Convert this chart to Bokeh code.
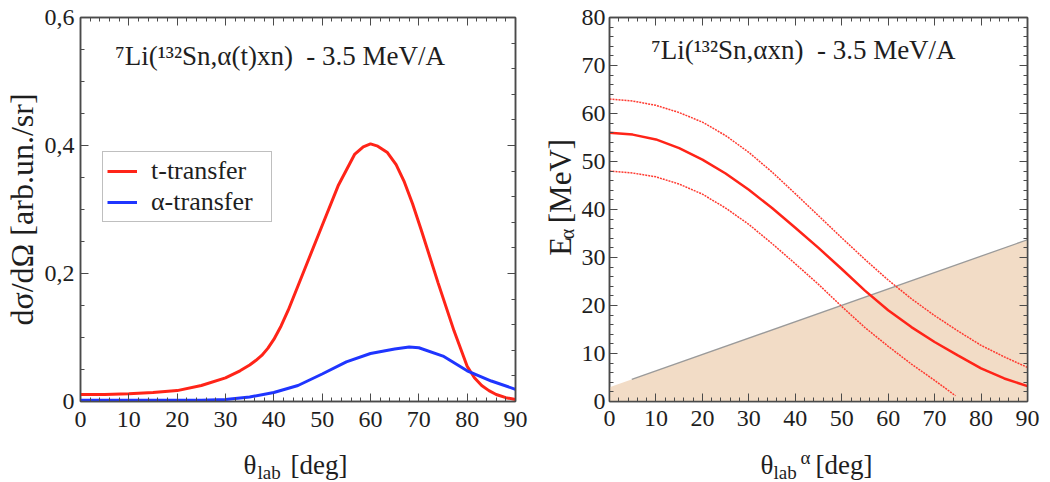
import math
from bokeh.plotting import figure
from bokeh.models import (Range1d, FixedTicker, LinearAxis, Label, Legend,
                          LegendItem)
from bokeh.layouts import row, column
from bokeh.embed import file_html
from bokeh.resources import INLINE

FONT = "Liberation Serif"
AX = "#4a4a4a"
TXT = "#1e1e1e"

# ---------------- data: left panel (angular distributions) ----------------
theta_t = [0, 5, 10, 15, 20, 25, 30, 33, 35, 36.25, 37.5, 38.75, 40, 41.5,
           43, 46.5, 50, 53.3, 56.7, 58.5, 60, 61.5, 63.5, 65.3, 67, 68.7,
           70.5, 74, 77.3, 80, 81.5, 83, 84.5, 86, 88, 90]
t_transfer = [0.011, 0.011, 0.012, 0.014, 0.017, 0.025, 0.037, 0.048, 0.057,
              0.064, 0.072, 0.083, 0.097, 0.118, 0.143, 0.209, 0.275, 0.337,
              0.386, 0.398, 0.4025, 0.399, 0.389, 0.370, 0.343, 0.309, 0.268,
              0.185, 0.110, 0.055, 0.037, 0.025, 0.017, 0.011, 0.006, 0.003]
theta_a = [0, 10, 20, 25, 30, 35, 40, 45, 50, 55, 60, 65, 68, 70, 75, 80,
           85, 90]
a_transfer = [0.002, 0.002, 0.002, 0.002, 0.003, 0.007, 0.014, 0.025, 0.043,
              0.062, 0.075, 0.082, 0.085, 0.084, 0.071, 0.048, 0.032, 0.019]

x_ticks = [0, 10, 20, 30, 40, 50, 60, 70, 80, 90]
left_y_ticks = [0, 0.2, 0.4, 0.6]
left_y_labels = ["0", "0,2", "0,4", "0,6"]

# ---------------- data: right panel (alpha energies) ----------------
theta_r = [0, 5, 10, 15, 20, 25, 30, 35, 40, 45, 50, 55, 60, 65, 70, 75, 80,
           85, 90]
e_mid = [56.0, 55.6, 54.6, 52.8, 50.4, 47.5, 44.1, 40.3, 36.2, 32.0, 27.6,
         23.1, 19.0, 15.5, 12.4, 9.6, 6.9, 4.8, 3.2]
e_up = [63.0, 62.6, 61.7, 60.2, 58.2, 55.4, 51.9, 47.8, 43.3, 38.7, 34.1,
        29.6, 25.3, 21.4, 17.9, 14.7, 11.7, 9.3, 7.1]
theta_lo = [0, 5, 10, 15, 20, 25, 30, 35, 40, 45, 50, 55, 60, 65, 70, 74.5]
e_lo = [48.0, 47.6, 46.8, 45.3, 43.2, 40.3, 36.9, 32.9, 28.7, 24.4, 19.8,
        15.4, 11.5, 7.8, 4.4, 1.2]
thr_fill_x = [0, 90]
thr_fill_y = [2.96, 33.7]
thr_line_x = [4.8, 90]
thr_line_y = [4.6, 33.7]

right_y_ticks = [0, 10, 20, 30, 40, 50, 60, 70, 80]


def frange(a, b, s):
    out = []
    v = a
    while v <= b + 1e-9:
        out.append(round(v, 6))
        v += s
    return out


def style_axis(ax, show_labels=True, standoff=6):
    ax.axis_line_color = AX
    ax.axis_line_width = 1.5
    ax.major_tick_line_color = AX
    ax.minor_tick_line_color = AX
    ax.major_tick_in = 8
    ax.major_tick_out = 0
    ax.minor_tick_in = 4
    ax.minor_tick_out = 0
    ax.major_label_text_font = FONT
    ax.major_label_text_font_size = "24px" if show_labels else "0px"
    ax.major_label_text_color = TXT
    ax.major_label_standoff = standoff


def add_frame_axes(p, xt, xminor, yt, yminor_l, yminor_r, ylabels,
                   xstand, ystand):
    bx = LinearAxis(ticker=FixedTicker(ticks=xt, minor_ticks=xminor))
    style_axis(bx, True, xstand)
    tx = LinearAxis(ticker=FixedTicker(ticks=xt, minor_ticks=xminor))
    style_axis(tx, False, 0)
    tx.major_label_overrides = {t: "" for t in xt}
    ly = LinearAxis(ticker=FixedTicker(ticks=yt, minor_ticks=yminor_l))
    style_axis(ly, True, ystand)
    if ylabels is not None:
        ly.major_label_overrides = dict(zip(yt, ylabels))
    ry = LinearAxis(ticker=FixedTicker(ticks=yt, minor_ticks=yminor_r))
    style_axis(ry, False, 0)
    ry.major_label_overrides = {t: "" for t in yt}
    p.add_layout(bx, "below")
    p.add_layout(tx, "above")
    p.add_layout(ly, "left")
    p.add_layout(ry, "right")
    return bx, ly


def lab(p, x, y, text, size, **kw):
    p.add_layout(Label(x=x, y=y, text=text, text_font=FONT,
                       text_font_size=size, text_color=TXT,
                       text_baseline="middle", **kw))


def text_fig(width, height, xr, yr):
    f = figure(width=width, height=height, x_range=Range1d(*xr),
               y_range=Range1d(*yr), output_backend="svg",
               toolbar_location=None, x_axis_type=None, y_axis_type=None,
               min_border=0)
    f.outline_line_color = None
    f.xgrid.visible = False
    f.ygrid.visible = False
    return f


TOP_H = 440
BOT_H = 42

# ======================= left figure =======================
p1 = figure(width=538, height=TOP_H, x_range=Range1d(0, 90),
            y_range=Range1d(0, 0.6), output_backend="svg",
            toolbar_location=None, x_axis_type=None, y_axis_type=None,
            min_border_left=78, min_border_right=23, min_border_top=14,
            min_border_bottom=39)
p1.xgrid.visible = False
p1.ygrid.visible = False
p1.outline_line_color = AX
p1.outline_line_width = 1.5

bx1, ly1 = add_frame_axes(p1, x_ticks, frange(0, 90, 2), left_y_ticks,
                          frange(0, 0.6, 0.05), frange(0, 0.6, 0.04),
                          left_y_labels, 10, 6)
ly1.axis_label = "dσ/dΩ [arb.un./sr]"
ly1.axis_label_text_font = FONT
ly1.axis_label_text_font_size = "32px"
ly1.axis_label_text_font_style = "normal"
ly1.axis_label_text_color = TXT
ly1.axis_label_standoff = 2

r_t = p1.line(theta_t, t_transfer, line_color="#ff2418", line_width=3)
r_a = p1.line(theta_a, a_transfer, line_color="#1f35ff", line_width=3)

leg = Legend(items=[LegendItem(label="t-transfer", renderers=[r_t]),
                    LegendItem(label="α-transfer", renderers=[r_a])],
             location=(22, 179))
leg.margin = 0
leg.padding = 4
leg.spacing = 1
leg.glyph_width = 30
leg.glyph_height = 30
leg.label_height = 30
leg.label_width = 116
leg.label_standoff = 14
leg.label_text_font = FONT
leg.label_text_font_size = "26px"
leg.label_text_color = TXT
leg.label_text_baseline = "middle"
leg.border_line_color = "#808080"
leg.border_line_width = 1
leg.background_fill_alpha = 1
p1.add_layout(leg)

lab(p1, 7.2, 0.54, "⁷Li(¹³²Sn,α(t)xn)\u00a0\u00a0- 3.5 MeV/A", "27px")

# ======================= label strip between the panels =======================
ylab2 = text_fig(40, TOP_H, (538, 578), (-440 / 4.85 + 405 / 4.85,
                                          405 / 4.85))
ang = math.pi / 2
lab(ylab2, 560, 27.2, "E", "31px", angle=ang)
lab(ylab2, 566, 31.1, "α", "20px", angle=ang)
lab(ylab2, 560, 34.9, "[MeV]", "31px", angle=ang)

# ======================= right figure =======================
p2 = figure(width=472, height=TOP_H, x_range=Range1d(0, 90),
            y_range=Range1d(0, 80), output_backend="svg",
            toolbar_location=None, x_axis_type=None, y_axis_type=None,
            min_border_left=28, min_border_right=23, min_border_top=17,
            min_border_bottom=35)
p2.xgrid.visible = False
p2.ygrid.visible = False
p2.outline_line_color = AX
p2.outline_line_width = 1.5

p2.varea(x=thr_fill_x, y1=[0, 0], y2=thr_fill_y, fill_color="#f2dcc6",
         fill_alpha=1)
p2.line(thr_line_x, thr_line_y, line_color="#9a9a9a", line_width=1.3)

add_frame_axes(p2, x_ticks, frange(0, 90, 2), right_y_ticks,
               frange(0, 80, 2), frange(0, 80, 2), None, 9, 4)

p2.line(theta_r, e_up, line_color="#ff3a30", line_width=1.5, line_dash="2 1")
p2.line(theta_lo, e_lo, line_color="#ff3a30", line_width=1.5, line_dash="2 1")
p2.line(theta_r, e_mid, line_color="#ff2418", line_width=2.5)

lab(p2, 9.0, 73.2, "⁷Li(¹³²Sn,αxn)\u00a0\u00a0- 3.5 MeV/A", "27px")

# ======================= x-axis titles =======================
xl1 = text_fig(538, BOT_H, (-78 / 4.8556, 460 / 4.8556), (0, BOT_H))
lab(xl1, 33.98, 18, "θ", "27px")
lab(xl1, 36.87, 9.7, "lab", "19px")
lab(xl1, 43.66, 18, "[deg]", "27px")

xl2 = text_fig(512, BOT_H, (-68 / 4.6778, 444 / 4.6778), (0, BOT_H))
lab(xl2, 32.92, 18, "θ", "27px")
lab(xl2, 35.70, 9.7, "lab", "19px")
lab(xl2, 41.47, 24.7, "α", "19px")
lab(xl2, 44.68, 18, "[deg]", "27px")

top = row(p1, ylab2, p2)
top.spacing = 0
bottom = row(xl1, xl2)
bottom.spacing = 0
layout = column(top, bottom)
layout.spacing = 0

open("out.html", "w").write(file_html(layout, INLINE))
